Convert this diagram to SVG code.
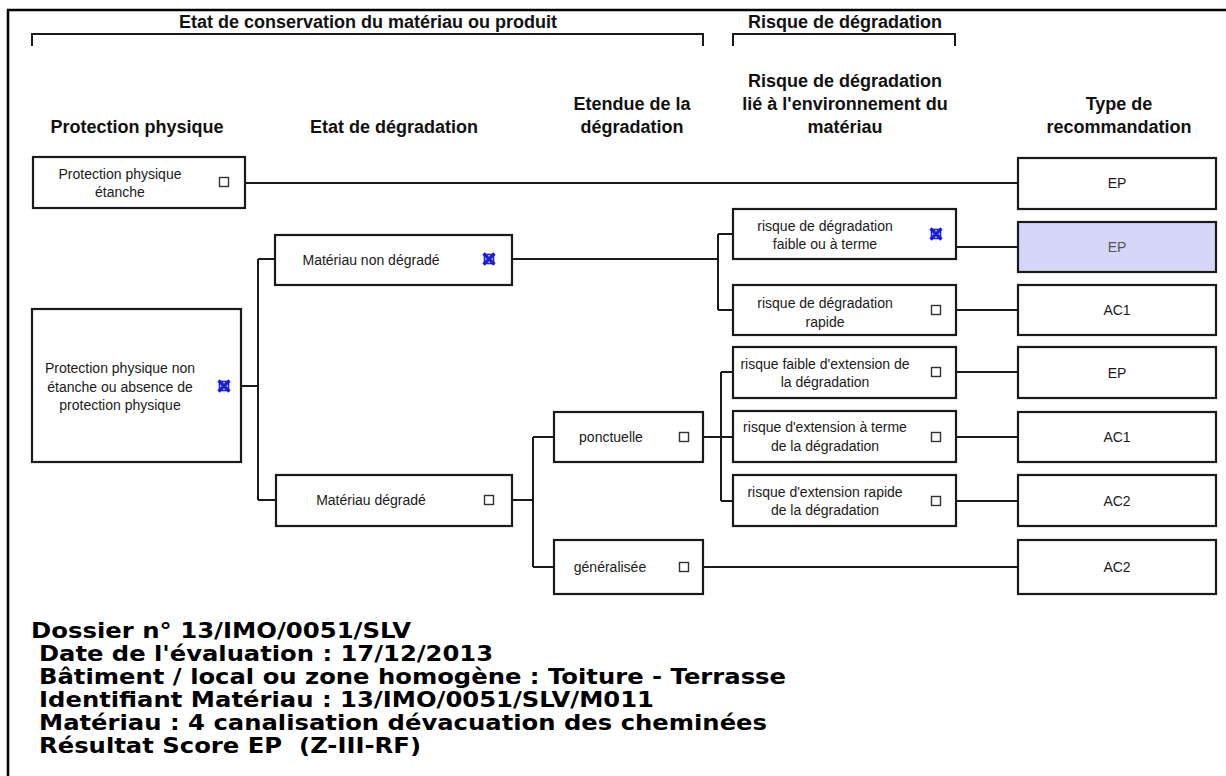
<svg xmlns="http://www.w3.org/2000/svg" xmlns:xlink="http://www.w3.org/1999/xlink" width="1226" height="776" viewBox="0 0 1226 776">
<defs>
<style>
.box{fill:#fff;stroke:#1a1a1a;stroke-width:2.2}
.hl{fill:#d4d5f7}
.t{font-family:"Liberation Sans",Arial,sans-serif;font-size:14px;fill:#1a1a1a;text-anchor:middle}
.h{font-family:"Liberation Sans",Arial,sans-serif;font-size:18px;font-weight:bold;fill:#111;text-anchor:middle}
.cb{fill:#fff;stroke:#333;stroke-width:1.4}
.xb{fill:none;stroke:#1c1fd0}
.conn path{fill:none;stroke:#1a1a1a;stroke-width:2}
.frame{fill:none;stroke:#000;stroke-width:2.5}
.br{fill:none;stroke:#1a1a1a;stroke-width:2}
.info{font-family:"DejaVu Sans",Verdana,sans-serif;font-size:21px;font-weight:bold;fill:#000}
</style>
<rect id="cbox" class="cb" x="-4.5" y="-4.5" width="9" height="9"/>
<g id="xbox" class="xb">
<rect x="-4.5" y="-4.5" width="9" height="9" stroke-width="1.6"/>
<path d="M-5.5,-5.5 L5.5,5.5 M5.5,-5.5 L-5.5,5.5" stroke-width="3.2"/>
</g>
</defs>
<rect width="1226" height="776" fill="#fff"/>
<path class="frame" d="M8,776 V10 H1226"/>

<g id="headers">
<path class="br" d="M32,46 V34 H703 V46"/>
<path class="br" d="M733,46 V34 H955 V46"/>
<text class="h" x="368" y="28">Etat de conservation du matériau ou produit</text>
<text class="h" x="845" y="28">Risque de dégradation</text>
<text class="h" x="137" y="133">Protection physique</text>
<text class="h" x="394" y="133">Etat de dégradation</text>
<text class="h" x="632" y="110">Etendue de la</text>
<text class="h" x="632" y="133">dégradation</text>
<text class="h" x="845" y="87">Risque de dégradation</text>
<text class="h" x="845" y="110">lié à l'environnement du</text>
<text class="h" x="845" y="133">matériau</text>
<text class="h" x="1119" y="110">Type de</text>
<text class="h" x="1119" y="133">recommandation</text>
</g>

<g class="conn" id="connectors">
<path d="M245,183 H1018"/>
<path d="M241,386 H258 M258,259 V500 M258,259 H275 M258,500 H276"/>
<path d="M512,259 H718 M718,234 V310 M718,234 H733 M718,310 H733"/>
<path d="M956,247 H1018"/>
<path d="M956,310 H1018"/>
<path d="M512,500 H533 M533,437 V567 M533,437 H554 M533,567 H554"/>
<path d="M703,437 H733 M721,372 V501 M721,372 H733 M721,501 H733"/>
<path d="M956,372 H1018 M956,437 H1018 M956,501 H1018"/>
<path d="M703,567 H1018"/>
</g>

<g id="n-pp-etanche">
<rect class="box" x="33" y="157" width="212" height="51"/>
<text class="t" x="120" y="179">Protection physique</text>
<text class="t" x="120" y="197">étanche</text>
<use xlink:href="#cbox" x="224" y="182"/>
</g>
<g id="n-pp-non-etanche">
<rect class="box" x="32" y="309" width="209" height="153"/>
<text class="t" x="120" y="373">Protection physique non</text>
<text class="t" x="120" y="392">étanche ou absence de</text>
<text class="t" x="120" y="410">protection physique</text>
<use xlink:href="#xbox" x="224" y="386"/>
</g>
<g id="n-non-degrade">
<rect class="box" x="275" y="235" width="237" height="50"/>
<text class="t" x="371" y="265">Matériau non dégradé</text>
<use xlink:href="#xbox" x="489" y="259"/>
</g>
<g id="n-degrade">
<rect class="box" x="276" y="475" width="236" height="51"/>
<text class="t" x="371" y="505">Matériau dégradé</text>
<use xlink:href="#cbox" x="489" y="500"/>
</g>
<g id="n-ponctuelle">
<rect class="box" x="554" y="412" width="149" height="50"/>
<text class="t" x="611" y="442">ponctuelle</text>
<use xlink:href="#cbox" x="684" y="437"/>
</g>
<g id="n-generalisee">
<rect class="box" x="554" y="540" width="149" height="54"/>
<text class="t" x="610" y="572">généralisée</text>
<use xlink:href="#cbox" x="684" y="567"/>
</g>
<g id="n-risque-faible">
<rect class="box" x="733" y="209" width="223" height="50"/>
<text class="t" x="825" y="231">risque de dégradation</text>
<text class="t" x="825" y="249">faible ou à terme</text>
<use xlink:href="#xbox" x="936" y="234"/>
</g>
<g id="n-risque-rapide">
<rect class="box" x="733" y="285" width="223" height="50"/>
<text class="t" x="825" y="308">risque de dégradation</text>
<text class="t" x="825" y="327">rapide</text>
<use xlink:href="#cbox" x="936" y="310"/>
</g>
<g id="n-ext-faible">
<rect class="box" x="733" y="347" width="223" height="51"/>
<text class="t" x="825" y="369">risque faible d'extension de</text>
<text class="t" x="825" y="387">la dégradation</text>
<use xlink:href="#cbox" x="936" y="372"/>
</g>
<g id="n-ext-terme">
<rect class="box" x="733" y="411" width="223" height="51"/>
<text class="t" x="825" y="432">risque d'extension à terme</text>
<text class="t" x="825" y="451">de la dégradation</text>
<use xlink:href="#cbox" x="936" y="437"/>
</g>
<g id="n-ext-rapide">
<rect class="box" x="733" y="475" width="223" height="51"/>
<text class="t" x="825" y="497">risque d'extension rapide</text>
<text class="t" x="825" y="515">de la dégradation</text>
<use xlink:href="#cbox" x="936" y="501"/>
</g>

<g id="r1"><rect class="box" x="1018" y="158" width="198" height="51"/><text class="t" x="1117" y="188">EP</text></g>
<g id="r2"><rect class="box hl" x="1018" y="222" width="198" height="50"/><text class="t" x="1117" y="252" style="fill:#555">EP</text></g>
<g id="r3"><rect class="box" x="1018" y="285" width="198" height="50"/><text class="t" x="1117" y="315">AC1</text></g>
<g id="r4"><rect class="box" x="1018" y="347" width="198" height="51"/><text class="t" x="1117" y="378">EP</text></g>
<g id="r5"><rect class="box" x="1018" y="412" width="198" height="50"/><text class="t" x="1117" y="442">AC1</text></g>
<g id="r6"><rect class="box" x="1018" y="475" width="198" height="51"/><text class="t" x="1117" y="506">AC2</text></g>
<g id="r7"><rect class="box" x="1018" y="540" width="198" height="54"/><text class="t" x="1117" y="572">AC2</text></g>

<g id="info">
<text class="info" x="31" y="638" textLength="380" lengthAdjust="spacingAndGlyphs">Dossier n° 13/IMO/0051/SLV</text>
<text class="info" x="39" y="661" textLength="454" lengthAdjust="spacingAndGlyphs">Date de l'évaluation : 17/12/2013</text>
<text class="info" x="39" y="684" textLength="747" lengthAdjust="spacingAndGlyphs">Bâtiment / local ou zone homogène : Toiture - Terrasse</text>
<text class="info" x="39" y="707" textLength="615" lengthAdjust="spacingAndGlyphs">Identifiant Matériau : 13/IMO/0051/SLV/M011</text>
<text class="info" x="39" y="730" textLength="728" lengthAdjust="spacingAndGlyphs">Matériau : 4 canalisation dévacuation des cheminées</text>
<text class="info" x="39" y="753" textLength="382" lengthAdjust="spacingAndGlyphs" xml:space="preserve">Résultat Score EP  (Z-III-RF)</text>
</g>
</svg>
